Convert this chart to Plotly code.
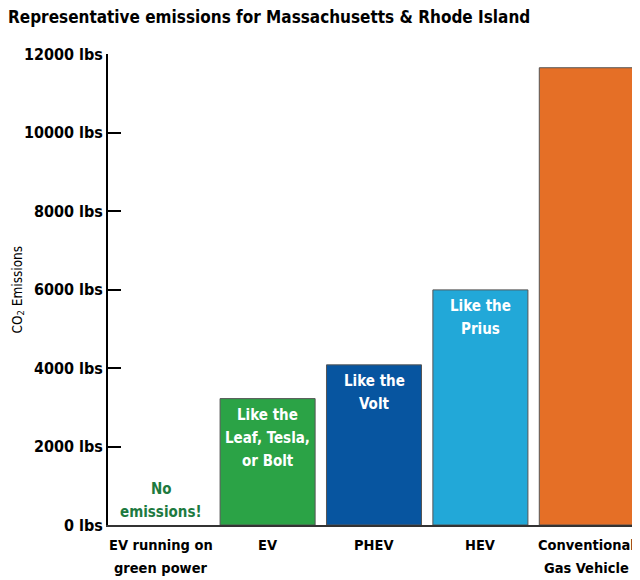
import plotly.graph_objects as go

categories = ["EV running on green power", "EV", "PHEV", "HEV", "Conventional Gas Vehicle"]
tick_label_lines = [["EV running on", "green power"], ["EV"], ["PHEV"], ["HEV"], ["Conventional", "Gas Vehicle"]]
emissions = [0, 3220, 4080, 5990, 11650]
bar_colors = ["#2ba346", "#2ba346", "#0755a0", "#22a8d8", "#e56f26"]
bar_note_lines = [[], ["Like the", "Leaf, Tesla,", "or Bolt"], ["Like the", "Volt"], ["Like the", "Prius"], []]
zero_note_lines = ["No", "emissions!"]
y_ticks = [0, 2000, 4000, 6000, 8000, 10000, 12000]
y_tick_labels = [f"{v} lbs" for v in y_ticks]
title_text = "Representative emissions for Massachusetts & Rhode Island"
y_title = "CO<sub>2</sub> Emissions"

FONT = "DejaVu Sans Condensed, Liberation Sans Narrow, Arial Narrow, sans-serif"
LINE = 23

fig = go.Figure()
fig.add_trace(go.Bar(
    x=categories, y=emissions,
    marker=dict(color=bar_colors,
                line=dict(color="#555555", width=[0 if v == 0 else 1 for v in emissions])),
    hoverinfo="skip",
))

annotations = []
# notes inside bars (one annotation per line for the original line spacing)
for c, v, lines in zip(categories, emissions, bar_note_lines):
    for i, line in enumerate(lines):
        annotations.append(dict(x=c, y=v, xref="x", yref="y", text=line, showarrow=False,
                                yanchor="middle", yshift=-(16 + LINE * i),
                                font=dict(family=FONT, size=15, color="white", weight="bold")))
# "No emissions!" note above the zero bar
n = len(zero_note_lines)
for i, line in enumerate(zero_note_lines):
    annotations.append(dict(x=categories[0], y=emissions[0], xref="x", yref="y", text=line,
                            showarrow=False, yanchor="middle", yshift=13 + LINE * (n - 1 - i),
                            font=dict(family=FONT, size=15, color="#1d7a3f", weight="bold")))
# category labels under the axis
for c, lines in zip(categories, tick_label_lines):
    for i, line in enumerate(lines):
        annotations.append(dict(x=c, y=0, xref="x", yref="paper", text=line, showarrow=False,
                                yanchor="middle", yshift=-(20 + LINE * i),
                                font=dict(family=FONT, size=14.5, color="black", weight="bold")))
# y-axis title
annotations.append(dict(x=-0.171, y=0.5, xref="paper", yref="paper", text=y_title, textangle=-90,
                        showarrow=False, xanchor="center", yanchor="middle",
                        font=dict(family=FONT, size=13.5, color="black")))

# the page body has an 8px margin, so the figure is sized/margined to compensate
fig.update_layout(
    width=632, height=572,
    margin=dict(l=100, r=0, t=46, b=55),
    paper_bgcolor="white", plot_bgcolor="white",
    bargap=0.107,
    showlegend=False,
    annotations=annotations,
    font=dict(family=FONT, color="black"),
    title=dict(text=title_text,
               x=0, xref="container", xanchor="left",
               y=1 - 3 / 572, yref="container", yanchor="top", pad=dict(t=0, b=0, l=0, r=0),
               font=dict(family=FONT, size=17, color="black", weight="bold")),
)
fig.update_xaxes(
    tickvals=categories, showticklabels=False,
    range=[-0.5, 4.5], automargin=False,
    showline=True, linecolor="#333333", linewidth=1.5,
    showgrid=False, ticks="",
)
fig.update_yaxes(
    range=[0, 12000], automargin=False,
    tickvals=y_ticks, ticktext=y_tick_labels,
    showline=True, linecolor="black", linewidth=2,
    ticks="inside", ticklen=13, tickwidth=2, tickcolor="black",
    showgrid=False, zeroline=False,
    tickfont=dict(family=FONT, size=16, color="black", weight="bold"),
)
fig.write_html("out.html")
